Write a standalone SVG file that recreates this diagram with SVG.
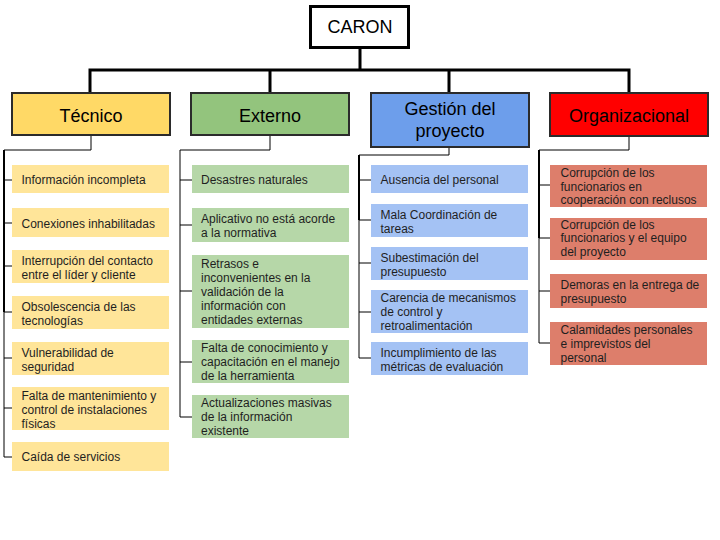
<svg xmlns="http://www.w3.org/2000/svg" width="720" height="540" viewBox="0 0 720 540">
<style>
text{font-family:"Liberation Sans",Arial,sans-serif;fill:#1f1f1f}
.it{font-size:12px}
.cat{font-size:18px;text-anchor:middle;fill:#000}
.cs{stroke:#2b2b2b;stroke-width:2}
.t{fill:#ffe599}.e{fill:#b6d7a8}.g{fill:#a4c2f4}.o{fill:#dd7e6b}
.main{fill:none;stroke:#000;stroke-width:3}
.br{fill:none;stroke:#000;stroke-width:1}
.br2{fill:none;stroke:#000;stroke-width:2}
</style>
<rect width="720" height="540" fill="#fff"/>
<g id="connectors">
<path class="main" d="M360 48V70M90 70H629M90 68.5V93M270 68.5V93M449 68.5V93M629 68.5V93"/>
<path class="br" d="M91 135V150H4V457H12M4 180H12M4 223H12M4 266H12M4 312H12M4 358H12M4 408H12"/>
<path class="br2" d="M4 150V312"/>
<path class="br" d="M270 135V150H180V417H192M180 180H192M180 225H192M180 291H192M180 362H192"/>
<path class="br" d="M449 147V155H359V358H371M359 180H371M359 220H371M359 263H371M359 312H371"/>
<path class="br2" d="M359 155V220"/>
<path class="br" d="M629 136V150H539V343H550M539 185H550M539 238H550M539 291H550"/>
<path class="br2" d="M539 150V238"/>
</g>
<g id="caron">
<rect x="310.5" y="6.5" width="98" height="41" fill="#fff" stroke="#000" stroke-width="3"/>
<text x="360" y="33" class="cat">CARON</text>
</g>
<g id="tecnico">
<rect x="12" y="93" width="158" height="42" fill="#ffd966" class="cs"/>
<text x="91" y="122" class="cat">Técnico</text>
</g>
<g id="externo">
<rect x="191" y="93" width="158" height="42" fill="#93c47d" class="cs"/>
<text x="270" y="122" class="cat">Externo</text>
</g>
<g id="gestion">
<rect x="371" y="93" width="158" height="54" fill="#6d9eeb" class="cs"/>
<text x="450" y="115" class="cat">Gestión del</text>
<text x="450" y="137" class="cat">proyecto</text>
</g>
<g id="organizacional">
<rect x="550" y="93" width="158" height="43" fill="#ff0000" class="cs"/>
<text x="629" y="122" class="cat">Organizacional</text>
</g>
<g id="t1"><rect class="t" x="12" y="165" width="157" height="28"/><text class="it" x="21.5" y="184">Información incompleta</text></g>
<g id="t2"><rect class="t" x="12" y="208" width="157" height="29"/><text class="it" x="21.5" y="227.5">Conexiones inhabilitadas</text></g>
<g id="t3"><rect class="t" x="12" y="250" width="157" height="33"/><text class="it" x="21.5" y="265">Interrupción del contacto</text><text class="it" x="21.5" y="279">entre el líder y cliente</text></g>
<g id="t4"><rect class="t" x="12" y="296" width="157" height="33"/><text class="it" x="21.5" y="310.5">Obsolescencia de las</text><text class="it" x="21.5" y="324.5">tecnologías</text></g>
<g id="t5"><rect class="t" x="12" y="342" width="157" height="33"/><text class="it" x="21.5" y="356.5">Vulnerabilidad de</text><text class="it" x="21.5" y="370.5">seguridad</text></g>
<g id="t6"><rect class="t" x="12" y="387" width="157" height="43"/><text class="it" x="21.5" y="399.5">Falta de mantenimiento y</text><text class="it" x="21.5" y="413.5">control de instalaciones</text><text class="it" x="21.5" y="427.5">físicas</text></g>
<g id="t7"><rect class="t" x="12" y="442" width="157" height="29"/><text class="it" x="21.5" y="461">Caída de servicios</text></g>
<g id="e1"><rect class="e" x="192" y="165" width="157" height="28"/><text class="it" x="201" y="184">Desastres naturales</text></g>
<g id="e2"><rect class="e" x="192" y="208" width="157" height="34"/><text class="it" x="201" y="222.5">Aplicativo no está acorde</text><text class="it" x="201" y="236.5">a la normativa</text></g>
<g id="e3"><rect class="e" x="192" y="255" width="157" height="73"/><text class="it" x="201" y="267.5">Retrasos e</text><text class="it" x="201" y="281.5">inconvenientes en la</text><text class="it" x="201" y="295.5">validación de la</text><text class="it" x="201" y="309.5">información con</text><text class="it" x="201" y="323.5">entidades externas</text></g>
<g id="e4"><rect class="e" x="192" y="340" width="157" height="43"/><text class="it" x="201" y="352">Falta de conocimiento y</text><text class="it" x="201" y="366">capacitación en el manejo</text><text class="it" x="201" y="380">de la herramienta</text></g>
<g id="e5"><rect class="e" x="192" y="395" width="157" height="43"/><text class="it" x="201" y="406.5">Actualizaciones masivas</text><text class="it" x="201" y="420.5">de la información</text><text class="it" x="201" y="434.5">existente</text></g>
<g id="g1"><rect class="g" x="371" y="165" width="157" height="28"/><text class="it" x="380.5" y="184">Ausencia del personal</text></g>
<g id="g2"><rect class="g" x="371" y="204" width="157" height="33"/><text class="it" x="380.5" y="218.5">Mala Coordinación de</text><text class="it" x="380.5" y="232.5">tareas</text></g>
<g id="g3"><rect class="g" x="371" y="247" width="157" height="33"/><text class="it" x="380.5" y="261.5">Subestimación del</text><text class="it" x="380.5" y="275.5">presupuesto</text></g>
<g id="g4"><rect class="g" x="371" y="290" width="157" height="43"/><text class="it" x="380.5" y="302">Carencia de mecanismos</text><text class="it" x="380.5" y="316">de control y</text><text class="it" x="380.5" y="330">retroalimentación</text></g>
<g id="g5"><rect class="g" x="371" y="342" width="157" height="33"/><text class="it" x="380.5" y="356.5">Incumplimiento de las</text><text class="it" x="380.5" y="370.5">métricas de evaluación</text></g>
<g id="o1"><rect class="o" x="550" y="165" width="157" height="42"/><text class="it" x="560.5" y="177">Corrupción de los</text><text class="it" x="560.5" y="190.5">funcionarios en</text><text class="it" x="560.5" y="204">cooperación con reclusos</text></g>
<g id="o2"><rect class="o" x="550" y="218" width="157" height="42"/><text class="it" x="560.5" y="228.5">Corrupción de los</text><text class="it" x="560.5" y="242">funcionarios y el equipo</text><text class="it" x="560.5" y="255.5">del proyecto</text></g>
<g id="o3"><rect class="o" x="550" y="274" width="157" height="34"/><text class="it" x="560.5" y="289">Demoras en la entrega de</text><text class="it" x="560.5" y="302.5">presupuesto</text></g>
<g id="o4"><rect class="o" x="550" y="322" width="157" height="43"/><text class="it" x="560.5" y="334">Calamidades personales</text><text class="it" x="560.5" y="348">e imprevistos del</text><text class="it" x="560.5" y="361.5">personal</text></g>
</svg>
